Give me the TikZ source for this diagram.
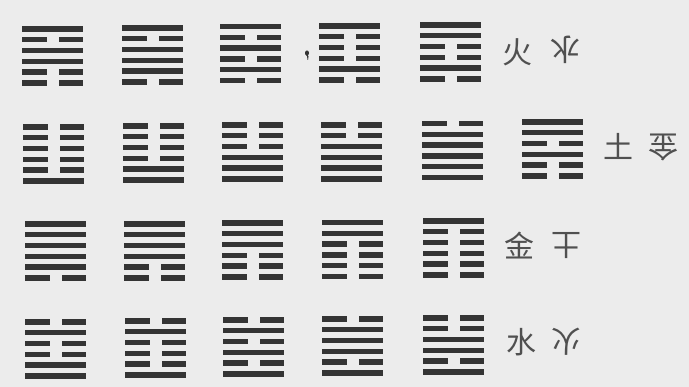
\documentclass[tikz,border=0pt]{standalone}
\usepackage{fontspec}
\newfontfamily\cjk{Noto Sans CJK SC}
\definecolor{bg}{RGB}{236,236,236}
\definecolor{barcol}{RGB}{52,52,52}
\definecolor{ink}{RGB}{80,80,80}
\tikzset{
  barstyle/.style={fill=barcol},
  glyph/.style={font=\cjk\fontsize{30}{30}\selectfont, text=ink, inner sep=0pt},
}
\newcommand\hexagram[4]{%
  \begin{scope}[shift={(#2,#3)}]
    \coordinate (#1) at (30.5,27);
    \foreach \bit [count=\i from 0] in {#4} {
      \pgfmathsetmacro\yy{\i*10.8}
      \ifnum\bit=1
        \fill[barstyle] (0,\yy-2.7) rectangle (61,\yy+2.7);
      \else
        \fill[barstyle] (0,\yy-2.7) rectangle (24.5,\yy+2.7);
        \fill[barstyle] (36.5,\yy-2.7) rectangle (61,\yy+2.7);
      \fi
    }
  \end{scope}
}
\begin{document}
\begin{tikzpicture}[x=1pt,y=-1pt]
\useasboundingbox (0,0) rectangle (689,387);
\fill[bg] (0,0) rectangle (689,387);
% row 1
\hexagram{a1}{22}{29}{1,0,1,1,0,0}
\hexagram{a2}{122}{28}{1,0,1,1,1,0}
\hexagram{a3}{220}{26.5}{1,0,1,0,1,0}
\hexagram{a4}{319}{26}{1,0,0,0,1,0}
\hexagram{a5}{420}{25}{1,1,0,0,1,0}
\fill[barcol] (307,53) ellipse (2pt and 2.6pt);
\fill[barcol] (306,52) .. controls (309,56) and (309,58) .. (308,60) -- (307.3,59.5) .. controls (307.5,57) .. (305.5,54) -- cycle;
\node[glyph] (huo1) at (517,52) {火};
\node[glyph,rotate=180] (shui1) at (565,50) {水};
% row 2
\hexagram{b1}{23}{127}{0,0,0,0,0,1}
\hexagram{b2}{123}{126}{0,0,0,0,1,1}
\hexagram{b3}{222}{125}{0,0,0,1,1,1}
\hexagram{b4}{321}{125}{0,0,1,1,1,1}
\hexagram{b5}{422}{123.5}{0,1,1,1,1,1}
\hexagram{b6}{522}{122}{1,1,0,1,0,0}
\node[glyph] (tu2) at (618,146) {土};
\node[glyph,rotate=180] (jin2) at (663,147) {金};
% row 3
\hexagram{c1}{25}{224}{1,1,1,1,1,0}
\hexagram{c2}{124}{224}{1,1,1,1,0,0}
\hexagram{c3}{222}{223}{1,1,1,0,0,0}
\hexagram{c4}{322}{222.5}{1,1,0,0,0,0}
\hexagram{c5}{423}{221}{1,0,0,0,0,0}
\node[glyph] (jin3) at (519,246) {金};
\node[glyph,rotate=180] (tu3) at (566,246) {土};
% row 4
\hexagram{d1}{25}{322}{0,1,0,0,1,1}
\hexagram{d2}{125}{321}{0,1,0,0,0,1}
\hexagram{d3}{223}{320}{0,1,0,1,0,1}
\hexagram{d4}{322}{319}{0,1,1,1,0,1}
\hexagram{d5}{423}{318}{0,0,1,1,0,1}
\node[glyph] (shui4) at (521,342) {水};
\node[glyph,rotate=180] (huo4) at (566,342) {火};
\end{tikzpicture}
\end{document}
